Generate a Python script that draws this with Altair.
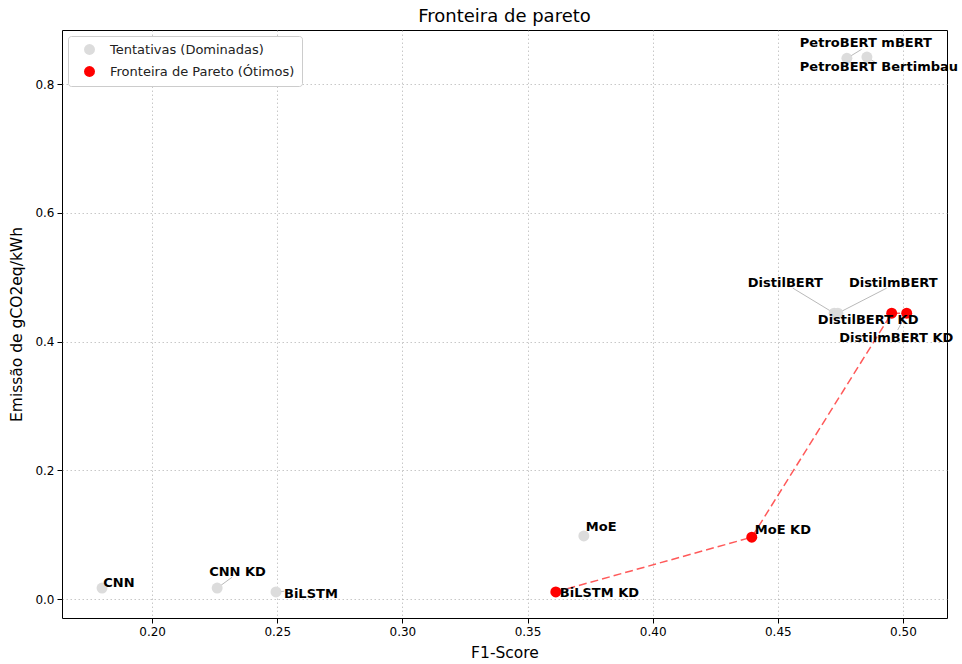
import altair as alt
import pandas as pd

# Models evaluated: F1 score against emissions
modelos = ["CNN", "CNN KD", "BiLSTM", "BiLSTM KD", "MoE", "MoE KD",
           "DistilBERT", "DistilmBERT", "DistilBERT KD", "DistilmBERT KD",
           "PetroBERT mBERT", "PetroBERT Bertimbau"]
f1_score = [0.180, 0.226, 0.2495, 0.3613, 0.3725, 0.4396,
            0.4725, 0.4740, 0.4955, 0.5015, 0.4776, 0.4856]
emissao = [0.017, 0.017, 0.011, 0.011, 0.098, 0.096,
           0.444, 0.444, 0.444, 0.444, 0.840, 0.842]
pareto = [False, False, False, True, False, True,
          False, False, True, True, False, False]

# Label anchors (left edge, vertical middle) and leader line ends
rotulo_x = [0.1805, 0.2228, 0.2527, 0.3629, 0.3733, 0.4408,
            0.4380, 0.4784, 0.4660, 0.4745, 0.4588, 0.4588]
rotulo_y = [0.025, 0.042, 0.008, 0.009, 0.112, 0.107,
            0.491, 0.491, 0.433, 0.405, 0.864, 0.826]
linha_x2 = [None, 0.232, 0.2528, None, None, None,
            0.456, 0.4935, None, 0.4979, 0.4835, 0.4888]
linha_y2 = [None, 0.034, 0.012, None, None, None,
            0.483, 0.483, None, 0.418, 0.854, 0.834]

ticks_x = [0.20, 0.25, 0.30, 0.35, 0.40, 0.45, 0.50]
ticks_y = [0.0, 0.2, 0.4, 0.6, 0.8]

status_nomes = ["Tentativas (Dominadas)", "Fronteira de Pareto (Ótimos)"]

df = pd.DataFrame({
    "modelo": modelos,
    "f1": f1_score,
    "emissao": emissao,
    "status": [status_nomes[1] if p else status_nomes[0] for p in pareto],
    "lx": rotulo_x,
    "ly": rotulo_y,
    "x2": linha_x2,
    "y2": linha_y2,
})
df_front = df[pareto].sort_values("f1")
df_linhas = df.dropna(subset=["x2"])

FONT = "DejaVu Sans"

xs = alt.Scale(domain=[0.164, 0.5176], nice=False, zero=False)
ys = alt.Scale(domain=[-0.0295, 0.884], nice=False, zero=False)

x_axis = alt.Axis(values=ticks_x, format=".2f", title="F1-Score")
y_axis = alt.Axis(values=ticks_y, format=".1f", title="Emissão de gCO2eq/kWh")

base = alt.Chart(df)

fronteira = alt.Chart(df_front).mark_line(
    color="red", strokeDash=[8, 4], strokeWidth=1.5, opacity=0.65
).encode(
    x=alt.X("f1:Q", scale=xs, axis=x_axis),
    y=alt.Y("emissao:Q", scale=ys, axis=y_axis),
    order="f1:Q",
)

linhas = alt.Chart(df_linhas).mark_rule(
    color="gray", strokeWidth=1, opacity=0.55
).encode(
    x=alt.X("f1:Q", scale=xs),
    y=alt.Y("emissao:Q", scale=ys),
    x2="x2:Q",
    y2="y2:Q",
)

pontos = base.mark_circle(size=120, opacity=1).encode(
    x=alt.X("f1:Q", scale=xs),
    y=alt.Y("emissao:Q", scale=ys),
    color=alt.Color(
        "status:N",
        scale=alt.Scale(domain=status_nomes, range=["#dcdcdc", "red"]),
        sort=status_nomes,
        legend=alt.Legend(
            title=None, orient="top-left", offset=6,
            fillColor="white", strokeColor="#cccccc", cornerRadius=3,
            padding=7, rowPadding=8, labelFontSize=13, labelFont=FONT,
            labelColor="#222222", symbolSize=120, labelOffset=14,
            symbolOffset=8, labelLimit=400,
        ),
    ),
)

rotulos = base.mark_text(
    align="left", baseline="middle", fontSize=13, fontWeight="bold",
    font=FONT, color="black",
).encode(
    x=alt.X("lx:Q", scale=xs),
    y=alt.Y("ly:Q", scale=ys),
    text="modelo:N",
)

chart = alt.layer(fronteira, linhas, pontos, rotulos).properties(
    width=885,
    height=588,
    title=alt.TitleParams("Fronteira de pareto", fontSize=18, font=FONT,
                          fontWeight="normal", color="black", offset=4),
    padding={"left": 62, "top": 30, "right": 15, "bottom": 46},
    autosize=alt.AutoSizeParams(type="none"),
).configure_view(
    stroke="black", strokeWidth=1,
).configure_axis(
    domain=False,
    grid=True,
    gridColor="#b0b0b0",
    gridDash=[1.5, 2.5],
    gridOpacity=0.7,
    tickColor="black",
    tickSize=5,
    labelFont=FONT,
    labelFontSize=12,
    labelColor="black",
    labelPadding=3,
    titleFont=FONT,
    titleFontSize=15.5,
    titleFontWeight="normal",
    titleColor="black",
).configure_axisX(
    titlePadding=8,
).configure_axisY(
    titlePadding=10,
)

chart.save("out.html", embed_options={"renderer": "svg", "actions": False})
